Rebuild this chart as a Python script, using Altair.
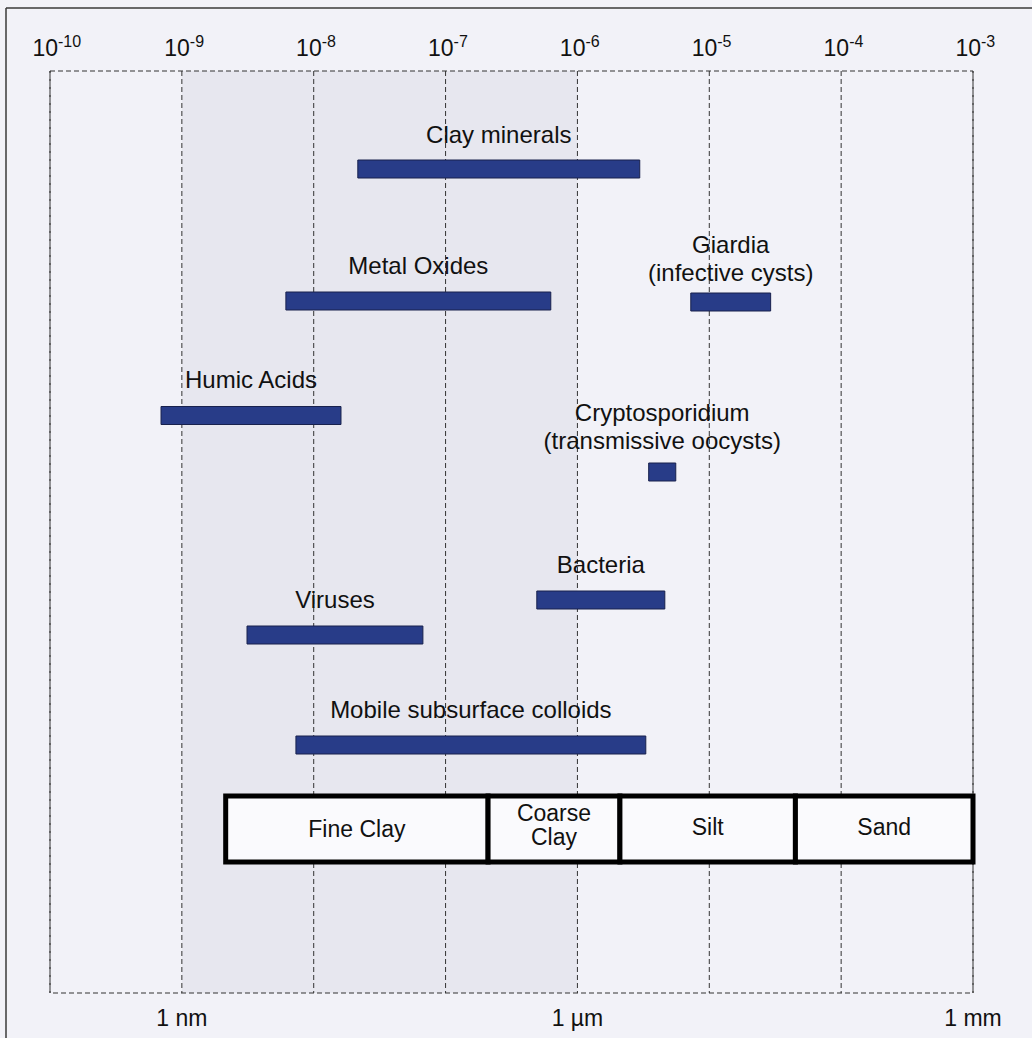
import altair as alt
import pandas as pd

# ---------------- data ----------------
item_names = ["Clay minerals", "Metal Oxides", "Giardia", "Humic Acids",
              "Cryptosporidium", "Bacteria", "Viruses", "Mobile subsurface colloids"]
item_label_lines = [["Clay minerals"], ["Metal Oxides"], ["Giardia", "(infective cysts)"],
                    ["Humic Acids"], ["Cryptosporidium", "(transmissive oocysts)"],
                    ["Bacteria"], ["Viruses"], ["Mobile subsurface colloids"]]
size_min_m = [2.16e-8, 6.15e-9, 7.24e-6, 6.95e-10, 3.47e-6, 4.92e-7, 3.12e-9, 7.33e-9]
size_max_m = [2.97e-6, 6.28e-7, 2.92e-5, 1.61e-8, 5.57e-6, 4.60e-6, 6.73e-8, 3.30e-6]

soil_class_lines = [["Fine Clay"], ["Coarse", "Clay"], ["Silt"], ["Sand"]]
soil_bounds_m = [2.15e-9, 2.1e-7, 2.1e-6, 4.5e-5, 1e-3]

decade_values = [1e-10, 1e-9, 1e-8, 1e-7, 1e-6, 1e-5, 1e-4, 1e-3]
decade_exponents = ["-10", "-9", "-8", "-7", "-6", "-5", "-4", "-3"]
unit_values = [1e-9, 1e-6, 1e-3]
unit_labels = ["1 nm", "1 µm", "1 mm"]
colloid_range_m = [1e-9, 1e-6]

# ---------------- layout (pixels) ----------------
W, H = 1032, 1038
X_RANGE = [50, 973]
PLOT_TOP, PLOT_BOTTOM = 71, 993
bar_center_y = [169, 301, 302, 415.5, 472, 600, 635, 745]
label_last_baseline = [143, 274, 281, 388, 449, 573, 608, 718]
LINE_H = 28
BAR_H = 18
BOX_TOP, BOX_BOTTOM = 796, 862
box_text_base = [837, 845, 835, 835]
BOX_LINE_H = 24

FONT = "Liberation Sans"
BG = "#f2f2f8"
LABEL_SIZE = 24

xscale = alt.Scale(type="log", domain=[decade_values[0], decade_values[-1]],
                   range=X_RANGE, nice=False)
yscale = alt.Scale(domain=[0, H], range=[0, H], nice=False, zero=False)

# ---------------- tables ----------------
bars = pd.DataFrame({
    "name": item_names,
    "lo": size_min_m,
    "hi": size_max_m,
    "y0": [c - BAR_H / 2 for c in bar_center_y],
    "y1": [c + BAR_H / 2 for c in bar_center_y],
})

label_rows = []
for i, lines in enumerate(item_label_lines):
    n = len(lines)
    for j, t in enumerate(lines):
        label_rows.append({
            "text": t,
            "lo": size_min_m[i],
            "hi": size_max_m[i],
            "yb": label_last_baseline[i] - (n - 1 - j) * LINE_H,
        })
labels = pd.DataFrame(label_rows)

boxes = pd.DataFrame({
    "lo": soil_bounds_m[:-1],
    "hi": soil_bounds_m[1:],
})
box_label_rows = []
for i, lines in enumerate(soil_class_lines):
    n = len(lines)
    for j, t in enumerate(lines):
        box_label_rows.append({
            "text": t,
            "lo": soil_bounds_m[i],
            "hi": soil_bounds_m[i + 1],
            "yb": box_text_base[i] - (n - 1 - j) * BOX_LINE_H,
        })
box_labels = pd.DataFrame(box_label_rows)

decades = pd.DataFrame({"v": decade_values, "exp": decade_exponents, "base": ["10"] * len(decade_values)})
units = pd.DataFrame({"v": unit_values, "text": unit_labels})
shade = pd.DataFrame({"lo": [colloid_range_m[0]], "hi": [colloid_range_m[1]]})
frame = pd.DataFrame({"lo": [decade_values[0]], "hi": [decade_values[-1]]})

# ---------------- layers ----------------
outer_left = alt.Chart(frame).mark_rule(color="#3a3a3a", strokeWidth=1.5).encode(
    x=alt.value(6), y=alt.value(8), y2=alt.value(H))
outer_top = alt.Chart(frame).mark_rule(color="#3a3a3a", strokeWidth=1.5).encode(
    x=alt.value(6), x2=alt.value(W), y=alt.value(8))

shade_layer = alt.Chart(shade).mark_rect(fill="#e7e7ef").encode(
    x=alt.X("lo:Q", scale=xscale, axis=None), x2="hi:Q",
    y=alt.value(PLOT_TOP), y2=alt.value(PLOT_BOTTOM))

frame_layer = alt.Chart(frame).mark_rect(fill=None, stroke="#333333", strokeWidth=1,
                                         strokeDash=[5, 3]).encode(
    x=alt.X("lo:Q", scale=xscale, axis=None), x2="hi:Q",
    y=alt.value(PLOT_TOP), y2=alt.value(PLOT_BOTTOM))

grid_layer = alt.Chart(decades).mark_rule(color="#333333", strokeWidth=1,
                                          strokeDash=[5, 3]).encode(
    x=alt.X("v:Q", scale=xscale, axis=None),
    y=alt.value(PLOT_TOP), y2=alt.value(PLOT_BOTTOM))

tick_base = alt.Chart(decades).mark_text(font=FONT, fontSize=23, color="#111111",
                                         align="right", baseline="alphabetic", dx=8).encode(
    x=alt.X("v:Q", scale=xscale, axis=None), y=alt.value(56), text="base:N")
tick_exp = alt.Chart(decades).mark_text(font=FONT, fontSize=16, color="#111111",
                                        align="left", baseline="alphabetic", dx=8).encode(
    x=alt.X("v:Q", scale=xscale, axis=None), y=alt.value(47), text="exp:N")

unit_layer = alt.Chart(units).mark_text(font=FONT, fontSize=23, color="#111111",
                                        align="center", baseline="alphabetic").encode(
    x=alt.X("v:Q", scale=xscale, axis=None), y=alt.value(1026), text="text:N")

bar_layer = alt.Chart(bars).mark_rect(fill="#283c88", stroke="#18214d", strokeWidth=1).encode(
    x=alt.X("lo:Q", scale=xscale, axis=None), x2="hi:Q",
    y=alt.Y("y0:Q", scale=yscale, axis=None), y2="y1:Q")

label_layer = alt.Chart(labels).transform_calculate(
    mid="sqrt(datum.lo * datum.hi)"
).mark_text(font=FONT, fontSize=LABEL_SIZE, color="#111111", align="center",
            baseline="alphabetic").encode(
    x=alt.X("mid:Q", scale=xscale, axis=None),
    y=alt.Y("yb:Q", scale=yscale, axis=None), text="text:N")

box_layer = alt.Chart(boxes).mark_rect(fill="#fafafd", stroke="#000000", strokeWidth=5).encode(
    x=alt.X("lo:Q", scale=xscale, axis=None), x2="hi:Q",
    y=alt.value(BOX_TOP), y2=alt.value(BOX_BOTTOM))

box_label_layer = alt.Chart(box_labels).transform_calculate(
    mid="sqrt(datum.lo * datum.hi)"
).mark_text(font=FONT, fontSize=23, color="#111111", align="center",
            baseline="alphabetic").encode(
    x=alt.X("mid:Q", scale=xscale, axis=None),
    y=alt.Y("yb:Q", scale=yscale, axis=None), text="text:N")

chart = alt.layer(
    shade_layer, frame_layer, grid_layer, outer_left, outer_top,
    tick_base, tick_exp, unit_layer,
    bar_layer, label_layer, box_layer, box_label_layer,
).properties(
    width=W, height=H, padding=0,
    autosize=alt.AutoSizeParams(type="none"),
    background=BG,
).configure_view(stroke=None)

chart.save("out.html", embed_options={"renderer": "svg", "actions": False})
